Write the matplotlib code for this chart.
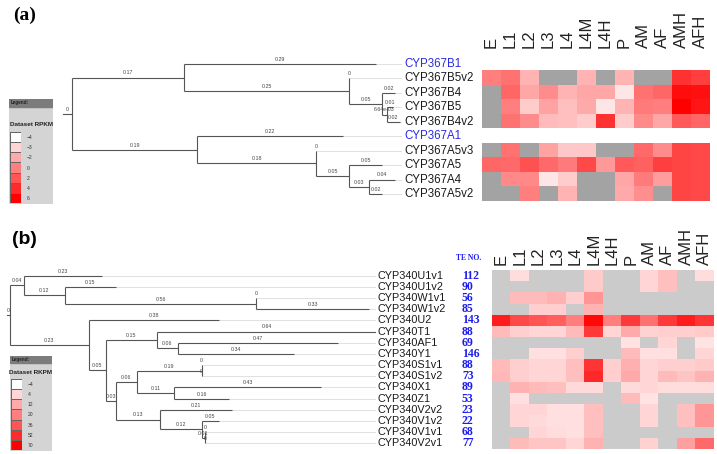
import numpy as np
import matplotlib
matplotlib.use("Agg")
from matplotlib import pyplot as plt
from matplotlib.colors import LinearSegmentedColormap, Normalize

plt.rcParams['font.family'] = ['Liberation Sans', 'DejaVu Sans']

W, H = 717, 454

STAGES = ["E", "L1", "L2", "L3", "L4", "L4M", "L4H", "P", "AM", "AF", "AMH", "AFH"]

# trees: a leaf is (name, branch length), an inner node is ([children], branch length)
TREE_A = ([
    ([("CYP367B1", 0.29),
      ([("CYP367B5v2", 0),
        ([("CYP367B4", 0.02),
          ([("CYP367B5", 0.01), ("CYP367B4v2", 0.02)], 0.00664)], 0.05)], 0.25)], 0.17),
    ([("CYP367A1", 0.22),
      ([("CYP367A5v3", 0),
        ([("CYP367A5", 0.05),
          ([("CYP367A4", 0.04), ("CYP367A5v2", 0.02)], 0.03)], 0.05)], 0.18)], 0.19),
], 0)

TREE_B = ([
    ([("CYP340U1v1", 0.23),
      ([("CYP340U1v2", 0.15),
        ([("CYP340W1v1", 0), ("CYP340W1v2", 0.33)], 0.56)], 0.12)], 0.04),
    ([("CYP340U2", 0.38),
      ([([("CYP340T1", 0.64),
          ([("CYP340AF1", 0.47), ("CYP340Y1", 0.34)], 0.06)], 0.15),
        ([([([("CYP340S1v1", 0), ("CYP340S1v2", 0)], 0.19),
             ([("CYP340X1", 0.43), ("CYP340Z1", 0.16)], 0.11)], 0.06),
          ([("CYP340V2v2", 0.21),
            ([("CYP340V1v2", 0.05),
              ([("CYP340V1v1", 0), ("CYP340V2v1", 0)], 0.01)], 0.12)], 0.13)], 0.03)], 0.05)], 0.23),
], 0)

BLUE_GENES = ["CYP367B1", "CYP367A1"]

# RPKM per stage (None = no data, gray); genes missing here have an empty row
n = None
RPKM_A = {
    "CYP367B5v2": [0, 0.6, -2.2, n, n, -2.2, n, -2.2, n, n, 3.6, 3],
    "CYP367B4":   [n, 1.2, -1.8, -0.6, -2.2, -1.8, -1.8, -3.4, 0.6, 1.2, 5.4, 5.2],
    "CYP367B5":   [n, 0, -2.8, -1.6, -2.5, -2, -3.4, -2.2, 0.2, 0, 6, 5],
    "CYP367B4v2": [n, 0.6, -0.6, -2.4, -2.5, -2.8, 3.6, -2.8, -0.5, -1.8, 1.8, 1.2],
    "CYP367A5v3": [n, 0.6, n, -1.6, -2.7, -2.7, n, n, 1, -0.6, 2.8, 2.6],
    "CYP367A5":   [1.2, 1, 2.2, 1, 0.2, 2.6, -1.2, 1.8, 1.4, 3, 2.8, 2.6],
    "CYP367A4":   [n, -0.4, -0.4, -3.4, -2.8, n, n, -1.8, 0.2, -1.4, 2.8, 2.6],
    "CYP367A5v2": [n, n, 0, n, -2.2, n, n, -2, -0.7, n, 2.8, 2.6],
}
RKPM_B = {
    "CYP340U1v1": [n, 2.5, n, n, n, 6, n, n, 4, 8, n, 2.5],
    "CYP340U1v2": [n, n, n, n, n, 6, n, n, 4, 8, n, n],
    "CYP340W1v1": [n, 9, 9, 10.5, 5, 16, n, n, n, n, n, n],
    "CYP340W1v2": [n, n, 5, 5, n, 10.5, n, n, n, n, n, n],
    "CYP340U2":   [58, 40, 36, 32, 20, 66, 20, 46, 25, 46, 58, 48],
    "CYP340T1":   [9, 5, 4, 4, 9, 46, 4, 12, 4.5, 5, 5, 6],
    "CYP340AF1":  [n, n, n, n, n, n, n, 1.5, n, 4, n, 1.5],
    "CYP340Y1":   [n, n, 2, 2, 5, n, n, 9, 2, 2, n, 4],
    "CYP340S1v1": [9, 5, 4, 4, 8, 48, 5, 11, 4, 5, 5, 6],
    "CYP340S1v2": [9.5, 5, 4, 4, 8, 53, 5, 12, 4, 9, 7, 10.5],
    "CYP340X1":   [n, 10.5, 9, 8, 3, 3, n, 3, 4, 2.5, 2.5, 2.5],
    "CYP340Z1":   [n, 2, n, n, n, n, n, 9, 1.5, n, n, n],
    "CYP340V2v2": [n, 4, 4, 2, 2, 8, n, n, 4, n, 8, 16],
    "CYP340V1v2": [n, 4, 3, 2, 2, 8, n, n, 4, n, 8, 16],
    "CYP340V1v1": [n, n, 4, 2.5, 2, 8, n, n, n, n, n, n],
    "CYP340V2v1": [n, 9, 7, 7, 4, 10.5, n, n, 4.5, n, 14, 28],
}
TE_NO = [112, 90, 56, 85, 143, 88, 69, 146, 88, 73, 89, 53, 23, 22, 68, 77]

LEVELS_A = [-4, -3, -2, 0, 2, 4, 6]
LEVELS_B = [-4, 4, 12, 20, 36, 52, 70]

CMAP = LinearSegmentedColormap.from_list('wr', ['#ffffff', '#ff0000'])
TREE_C = '#555555'

fig = plt.figure(figsize=(W / 100, H / 100), dpi=100)


def px_axes(left, top, width, height):
    return fig.add_axes([left / W, 1 - (top + height) / H, width / W, height / H])


def fmt_len(v):
    if v == 0:
        return "0"
    if v < 0.01:
        return f"{v:.2e}"
    return f"{v:.2f}"


def layout(node, x0, leaves, segs):
    body, length = node
    x = x0 + length
    if isinstance(body, str):
        y = len(leaves)
        leaves.append((body, x, y))
    else:
        ys = [layout(c, x, leaves, segs) for c in body]
        y = (ys[0] + ys[-1]) / 2
        segs.append(('v', x, ys[0], ys[-1], None))
    segs.append(('h', x0, x, y, length))
    return y


def draw_tree(ax, tree, xmin, xmax, fs_leaf, stub):
    leaves, segs = [], []
    root_y = layout(tree, 0, leaves, segs)
    for kind, a, b, c, length in segs:
        if kind == 'v':
            ax.plot([a, a], [b, c], color=TREE_C, lw=0.8, solid_capstyle='butt')
        elif length is not None and not (a == 0 and b == 0):
            ax.plot([a, b], [c, c], color=TREE_C, lw=0.8, solid_capstyle='butt')
            ax.annotate(fmt_len(length), ((a + b) / 2, c), xytext=(0, 1.5),
                        textcoords='offset points', ha='center', va='bottom',
                        fontsize=3.8, color='#444444')
    # root stub
    ax.plot([-stub, 0], [root_y, root_y], color=TREE_C, lw=0.8)
    ax.annotate("0", (-stub / 2, root_y), xytext=(0, 1.5), textcoords='offset points',
                ha='center', va='bottom', fontsize=3.8, color='#444444')
    for name, x, y in leaves:
        ax.plot([x, xmax], [y, y], color='#dcdcdc', lw=0.6, zorder=0)
        ax.annotate(name, (xmax, y), xytext=(2, 0), textcoords='offset pixels',
                    ha='left', va='center', fontsize=fs_leaf,
                    color='#2a2ae0' if name in BLUE_GENES else '#1a1a1a',
                    annotation_clip=False)
    ax.set_xlim(xmin, xmax)
    ax.set_ylim(len(leaves) - 0.5, -0.5)
    ax.axis('off')
    return [l[0] for l in leaves]


def draw_heat(ax, names, table, levels, gray, pad):
    rows = []
    for name in names:
        r = table.get(name)
        if r is None:
            rows.append([-999] * len(STAGES))
        else:
            rows.append([np.nan if v is None else v for v in r])
    data = np.array(rows, dtype=float)
    t = np.where(data < -900, -1, np.interp(data, levels, np.linspace(0, 1, len(levels))))
    t[np.isnan(data)] = np.nan
    cmap = CMAP.copy()
    cmap.set_bad(gray)
    cmap.set_under('white')
    ax.imshow(t, cmap=cmap, norm=Normalize(0, 1), aspect='auto', interpolation='nearest')
    ax.set_xticks(range(len(STAGES)))
    ax.set_xticklabels(STAGES, rotation=90, fontsize=12, color='#222222')
    ax.xaxis.tick_top()
    ax.tick_params(length=0, pad=pad)
    ax.set_yticks([])
    for s in ax.spines.values():
        s.set_visible(False)


def draw_legend(left, top, w, h, title, levels, head, title_y, sw_top):
    box = px_axes(left, top, w, h)
    box.set_xlim(0, w)
    box.set_ylim(h, 0)
    box.set_facecolor('#d4d4d4')
    box.axhspan(0, head, color='#7c7c7c')
    box.text(2, head / 2, "Legend:", fontsize=3.3, fontweight='bold', va='center', color='#222222')
    box.text(w / 2, title_y, title, fontsize=4.6, fontweight='bold', ha='center', va='center', color='#222222')
    box.set_xticks([])
    box.set_yticks([])
    for s in box.spines.values():
        s.set_visible(False)
    sw = px_axes(left + 1, top + sw_top, 11, 71)
    k = np.linspace(0, 1, len(levels))
    sw.pcolormesh(np.arange(2), np.arange(len(levels) + 1), k[:, None], cmap=CMAP,
                  norm=Normalize(0, 1), edgecolors='#666666', linewidth=0.4)
    sw.set_ylim(len(levels), 0)
    sw.yaxis.tick_right()
    sw.set_yticks(np.arange(len(levels)) + 0.5)
    sw.set_yticklabels([str(v).replace('-', '\u2212') for v in levels], fontsize=3.6, color='#333333')
    sw.tick_params(length=0, pad=4)
    sw.set_xticks([])
    for s in sw.spines.values():
        s.set_visible(False)


# ---- panel (a)
scale_a = 660
ax_ta = px_axes(62, 56.8, 0.5152 * scale_a, 144.4)
names_a = draw_tree(ax_ta, TREE_A, -0.0152, 0.5, 8.3, 0.014)
ax_ha = px_axes(482, 56.8, 228, 144.4)
draw_heat(ax_ha, names_a, RPKM_A, LEVELS_A, '#a3a3a3', 6.5)
draw_legend(9, 99, 44, 105, "Dataset RPKM", LEVELS_A, 8, 26, 33)

# ---- panel (b)
scale_b = 342
ax_tb = px_axes(5.9, 270.1, 1.082 * scale_b, 178.8)
names_b = draw_tree(ax_tb, TREE_B, -0.012, 1.07, 7.8, 0.009)
ax_hb = px_axes(492, 270.1, 222, 178.8)
draw_heat(ax_hb, names_b, RKPM_B, LEVELS_B, '#cbcbcb', 3.5)
for i, te in enumerate(TE_NO):
    ax_hb.annotate(str(te), (0, i), xycoords=('axes fraction', 'data'), xytext=(-30, 0),
                   textcoords='offset pixels', ha='left', va='center', fontsize=8.5,
                   fontweight='bold', family='Liberation Serif', color='#1c1cf0',
                   annotation_clip=False)
ax_hb.annotate("TE NO.", (0, 1), xycoords='axes fraction', xytext=(-23, 12),
               textcoords='offset pixels', ha='center', va='center', fontsize=5.5,
               fontweight='bold', family='Liberation Serif', color='#1c1cf0')
draw_legend(10, 356, 42, 95, "Dataset RKPM", LEVELS_B, 7, 17, 23)

fig.text(25 / W, 1 - 15 / H, "(a)", fontsize=14, fontweight='bold', family='Liberation Serif',
         ha='center', va='center')
fig.text(24 / W, 1 - 240 / H, "(b)", fontsize=14, fontweight='bold', ha='center', va='center')

fig.savefig('out.png', dpi=100)
